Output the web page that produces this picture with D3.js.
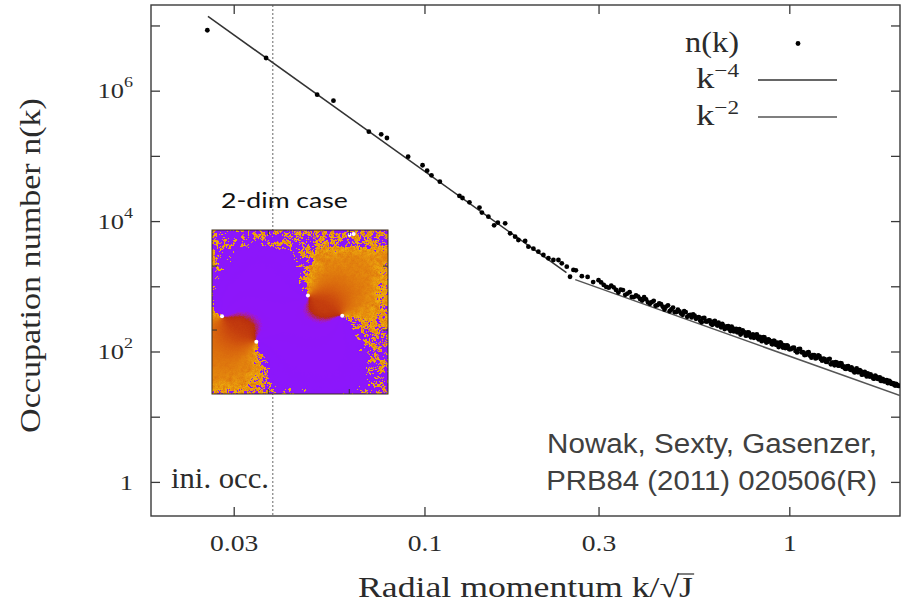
<!DOCTYPE html>
<html>
<head>
<meta charset="utf-8">
<script src="https://cdn.jsdelivr.net/npm/d3@7/dist/d3.min.js"></script>
<style>
  html, body { margin: 0; padding: 0; background: #fff; }
  svg { display: block; }
</style>
</head>
<body>
<script>
// ---- occupation number n(k): sparse infrared points ----
const kSparse = [0.0254, 0.0368, 0.0508, 0.0563, 0.0704, 0.0761, 0.0789, 0.0902, 0.0988, 0.1017,
  0.1045, 0.1102, 0.1247, 0.1271, 0.1328, 0.1415, 0.1437, 0.1497, 0.1552, 0.1589,
  0.1664, 0.1717, 0.1772, 0.1809, 0.1888, 0.1927, 0.1989, 0.2052, 0.2118, 0.2186,
  0.2256, 0.2329, 0.2379, 0.2455, 0.2506, 0.2560];
const nSparse = [8.44e6, 3.17e6, 8.68e5, 7.02e5, 2.35e5, 2.14e5, 1.88e5, 9.72e4, 7.18e4, 5.93e4,
  5.04e4, 4.02e4, 2.43e4, 2.26e4, 1.94e4, 1.61e4, 1.35e4, 1.17e4, 8620, 9450,
  9250, 6500, 5760, 5130, 4950, 4050, 3770, 3390, 3020, 2690,
  2530, 2530, 2250, 2000, 1400, 1780];

// ---- occupation number n(k): dense ultraviolet points, first lattice shell ----
const kDense = [
  0.26, 0.27, 0.28, 0.29, 0.30, 0.31, 0.32, 0.33, 0.34, 0.35,
  0.36, 0.37, 0.38, 0.39, 0.40, 0.41, 0.42, 0.43, 0.44, 0.45,
  0.46, 0.47, 0.48, 0.49, 0.50, 0.51, 0.52, 0.53, 0.54, 0.55,
  0.56, 0.57, 0.58, 0.59, 0.60,
  0.61, 0.62, 0.63, 0.64, 0.65, 0.66, 0.67, 0.68, 0.69, 0.70,
  0.71, 0.72, 0.73, 0.74, 0.75, 0.76, 0.77, 0.78, 0.79, 0.80,
  0.81, 0.82, 0.83, 0.84, 0.85, 0.86, 0.87, 0.88, 0.89, 0.90,
  0.91, 0.92, 0.93, 0.94, 0.95, 0.96, 0.97, 0.98, 0.99, 1.00,
  1.02, 1.04, 1.06, 1.08, 1.10, 1.12, 1.14, 1.16, 1.18, 1.20,
  1.22, 1.24, 1.26, 1.28, 1.30, 1.32, 1.34, 1.36, 1.38, 1.40,
  1.42, 1.44, 1.46, 1.48, 1.50, 1.52, 1.54, 1.56, 1.58, 1.60,
  1.62, 1.64, 1.66, 1.68, 1.70, 1.72, 1.74, 1.76, 1.78, 1.80,
  1.82, 1.84, 1.86, 1.88, 1.90, 1.92, 1.94, 1.96, 1.98, 2.00];
const nDense = [
  1760, 1430, 1390, 1160, 1240, 1050, 953, 965, 802, 876,
  772, 687, 727, 638, 681, 565, 573, 503, 547, 484,
  488, 414, 472, 403, 412, 366, 402, 359, 333, 356,
  331, 295, 326, 289, 298,
  266, 286, 262, 277, 235, 248, 229, 244, 206, 227,
  213, 197, 221, 190, 199, 175, 197, 176, 177, 162,
  178, 159, 167, 144, 166, 149, 140, 151, 143, 129,
  145, 127, 134, 125, 133, 115, 123, 115, 122, 108,
  114, 102, 109, 97.4, 88.4, 96.4, 86.1, 87.6, 78.2, 87.0,
  76.4, 77.9, 69.6, 75.4, 63.6, 67.7, 68.4, 60.8, 66.4, 58.0,
  54.8, 59.0, 54.6, 57.0, 49.8, 52.1, 48.3, 51.9, 44.1, 47.6,
  44.2, 46.2, 41.3, 42.4, 38.5, 42.5, 38.8, 39.4, 35.6, 38.1,
  34.7, 35.8, 32.9, 35.3, 32.2, 32.6, 30.7, 31.9, 30.1, 29.8];

// ---- dense ultraviolet points, second lattice shell ----
const kDenseB = [
  0.305, 0.315, 0.325, 0.335, 0.345, 0.355, 0.365, 0.375, 0.385, 0.395,
  0.405, 0.415, 0.425, 0.435, 0.445, 0.455, 0.465, 0.475, 0.485, 0.495,
  0.505, 0.515, 0.525, 0.535, 0.545, 0.555, 0.565, 0.575, 0.585, 0.595,
  0.605, 0.615, 0.625, 0.635, 0.645, 0.655, 0.665, 0.675, 0.685, 0.695,
  0.705, 0.715, 0.725, 0.735, 0.745, 0.755, 0.765, 0.775, 0.785, 0.795,
  0.805, 0.815, 0.825, 0.835, 0.845, 0.855, 0.865, 0.875, 0.885, 0.895,
  0.905, 0.915, 0.925, 0.935, 0.945, 0.955, 0.965, 0.975, 0.985, 0.995,
  1.01, 1.03, 1.05, 1.07, 1.09, 1.11, 1.13, 1.15, 1.17, 1.19,
  1.21, 1.23, 1.25, 1.27, 1.29, 1.31, 1.33, 1.35, 1.37, 1.39,
  1.41, 1.43, 1.45, 1.47, 1.49, 1.51, 1.53, 1.55, 1.57, 1.59,
  1.61, 1.63, 1.65, 1.67, 1.69, 1.71, 1.73, 1.75, 1.77, 1.79,
  1.81, 1.83, 1.85, 1.87, 1.89, 1.91, 1.93, 1.95, 1.97, 1.99];
const nDenseB = [
  1147, 977, 1027, 881, 886, 739, 811, 683, 695, 603,
  628, 540, 598, 513, 530, 440, 510, 441, 402, 437,
  381, 417, 340, 364, 369, 317, 336, 281, 327, 288,
  299, 257, 295, 250, 256, 264, 221, 243, 220, 241,
  203, 223, 203, 182, 211, 195, 177, 195, 165, 183,
  167, 183, 153, 163, 149, 164, 137, 153, 143, 130,
  146, 130, 137, 117, 138, 122, 124, 113, 124, 112,
  108.5, 114.2, 96.6, 109.2, 97.7, 88.7, 97.5, 80.3, 87.9, 80.2,
  84.9, 72.2, 76.0, 69.3, 77.1, 67.3, 61.5, 67.4, 60.5, 65.6,
  59.1, 54.1, 59.4, 52.3, 54.7, 47.7, 54.9, 48.2, 49.8, 44.5,
  48.8, 41.4, 43.9, 44.6, 40.3, 38.5, 41.2, 37.9, 40.2, 35.5,
  36.9, 35.1, 36.4, 33.0, 34.3, 31.9, 32.5, 30.0, 31.0, 29.7];

// ---- power-law guides n = amp * k^exp ----
const steepRange = [0.0255, 0.245];
const steepAmp = 5.83;
const steepExp = -4;
const flatRange = [0.259, 2.011];
const flatAmp = 85;
const flatExp = -2;

// initial occupation cutoff
const kInit = 0.0384;

// ---- axes ----
const xDomain = [0.0178, 2.011];
const yDomain = [0.3, 2.06e7];
const xTicks = [0.03, 0.1, 0.3, 1];
const xTickLabels = ["0.03", "0.1", "0.3", "1"];
const yTicks = [1, 1e1, 1e2, 1e3, 1e4, 1e5, 1e6, 1e7];
const yTickExps = [0, null, 2, null, 4, null, 6, null];

// ---- inset: phase of the 2-dim condensate ----
const vortices = [[0.545, 0.400], [0.740, 0.523], [0.057, 0.526], [0.252, 0.681], [0.782, 0.029], [0.805, 0.024]];
const vortexPairs = [[[0.740, 0.523], [0.545, 0.400]], [[0.057, 0.526], [0.252, 0.681]]];
const cutLeft = [[0.12, 0], [0.08, 0.25], [0.0, 0.40], [0.057, 0.526], [0.252, 0.681], [0.34, 1.0]];
const cutRight = [[0.50, 0], [0.52, 0.25], [0.545, 0.40], [0.740, 0.523], [0.86, 0.75], [0.92, 1.0]];
const insetTicksU = [0.32, 0.78];
const insetTicksV = [0.22, 0.61];

const W = 909, H = 608;
const M = {left: 151, right: 900, top: 5, bottom: 516};
const ink = "#3a3a3a";
const txt = "#2b2b2b";
const serif = '"Liberation Serif", "DejaVu Serif", serif';

const svg = d3.select("body").append("svg").attr("width", W).attr("height", H);
const defs = svg.append("defs");

const x = d3.scaleLog().domain(xDomain).range([M.left, M.right]);
const y = d3.scaleLog().domain(yDomain).range([M.bottom, M.top]);

defs.append("clipPath").attr("id", "plotClip")
  .append("rect").attr("x", M.left).attr("y", M.top)
  .attr("width", M.right - M.left).attr("height", M.bottom - M.top);

// text placed at (px,py) and stretched horizontally to a given width
function label(parent, px, py, opts) {
  const g = parent.append("g");
  const t = g.append("text").attr("x", 0).attr("y", 0)
    .attr("text-anchor", opts.anchor || "start")
    .attr("font-family", opts.family || serif)
    .attr("font-size", opts.size)
    .attr("fill", opts.fill || txt);
  opts.build(t);
  const natural = t.node().getComputedTextLength();
  const sx = opts.width ? opts.width / natural : (opts.sx || 1);
  g.attr("transform", `translate(${px},${py}) ${opts.rotate ? `rotate(${opts.rotate})` : ""} scale(${sx},1)`);
  return {g, t};
}

// ---- ticks (inward, mirrored on all sides) ----
const tickLen = 9;
function styleAxis(g) {
  g.select(".domain").remove();
  g.selectAll(".tick line").attr("stroke", ink).attr("stroke-width", 1.3);
  g.selectAll("text").attr("font-family", serif).attr("font-size", 22).attr("fill", txt);
}
svg.append("g").attr("transform", `translate(0,${M.bottom})`)
  .call(d3.axisBottom(x).tickValues(xTicks).tickFormat((d, i) => xTickLabels[i])
    .tickSize(-tickLen).tickSizeOuter(0).tickPadding(19))
  .call(styleAxis)
  .selectAll(".tick text").attr("font-size", 23).attr("transform", "scale(1.2,1)");
svg.append("g").attr("transform", `translate(0,${M.top})`)
  .call(d3.axisTop(x).tickValues(xTicks).tickFormat("").tickSize(-tickLen).tickSizeOuter(0))
  .call(styleAxis);

const yLeft = svg.append("g").attr("transform", `translate(${M.left},0)`)
  .call(d3.axisLeft(y).tickValues(yTicks).tickFormat("").tickSize(-tickLen).tickSizeOuter(0).tickPadding(18))
  .call(styleAxis);
svg.append("g").attr("transform", `translate(${M.right},0)`)
  .call(d3.axisRight(y).tickValues(yTicks).tickFormat("").tickSize(-tickLen).tickSizeOuter(0))
  .call(styleAxis);

// y tick labels as powers of ten
yLeft.selectAll(".tick text").each(function(d, i) {
  const t = d3.select(this);
  const e = yTickExps[i];
  if (e === null) return;
  t.attr("x", 0).attr("dy", "0.33em").attr("transform", "translate(-18,0) scale(1.2,1)");
  if (e === 0) { t.text("1"); return; }
  t.append("tspan").text("10");
  t.append("tspan").attr("font-size", 15).attr("dy", -11).text(String(e));
});

// frame
svg.append("rect").attr("x", M.left).attr("y", M.top)
  .attr("width", M.right - M.left).attr("height", M.bottom - M.top)
  .attr("fill", "none").attr("stroke", ink).attr("stroke-width", 1.4);

// ---- initial occupation cutoff ----
svg.append("line")
  .attr("x1", x(kInit)).attr("x2", x(kInit)).attr("y1", M.top).attr("y2", M.bottom)
  .attr("stroke", "#555").attr("stroke-width", 0.9).attr("stroke-dasharray", "2,2");

// ---- power-law guides ----
const line = d3.line().x(d => x(d[0])).y(d => y(d[1]));
const plot = svg.append("g").attr("clip-path", "url(#plotClip)");
plot.append("path")
  .datum(steepRange.map(k => [k, steepAmp * Math.pow(k, steepExp)]))
  .attr("d", line).attr("fill", "none").attr("stroke", "#333").attr("stroke-width", 1.5);
plot.append("path")
  .datum(flatRange.map(k => [k, flatAmp * Math.pow(k, flatExp)]))
  .attr("d", line).attr("fill", "none").attr("stroke", "#555").attr("stroke-width", 1.5);

// ---- data points ----
const pts = kSparse.map((k, i) => [k, nSparse[i]])
  .concat(kDense.map((k, i) => [k, nDense[i]]))
  .concat(kDenseB.map((k, i) => [k, nDenseB[i]]));
plot.append("g").selectAll("circle").data(pts).join("circle")
  .attr("cx", d => x(d[0])).attr("cy", d => y(d[1])).attr("r", 2.4).attr("fill", "#000");

// ---- legend ----
label(svg, 739, 52, {anchor: "end", size: 30, width: 54, build: t => t.text("n(k)")});
svg.append("circle").attr("cx", 798).attr("cy", 43.5).attr("r", 2.4).attr("fill", "#000");
[["\u22124", 88, 80, "#333"], ["\u22122", 125, 117, "#555"]].forEach(([sup, by, ly, col]) => {
  label(svg, 739, by, {anchor: "end", size: 30, width: 43, build: t => {
    t.append("tspan").text("k");
    t.append("tspan").attr("font-size", 19).attr("dy", -11).text(sup);
  }});
  svg.append("line").attr("x1", 758).attr("x2", 837).attr("y1", ly).attr("y2", ly)
    .attr("stroke", col).attr("stroke-width", 1.5);
});

// ---- axis titles ----
label(svg, 40, 265.5, {anchor: "middle", size: 30, width: 335, rotate: -90,
  build: t => t.text("Occupation number n(k)")});

{
  const xt = label(svg, 525.5, 597, {anchor: "middle", size: 30, width: 335,
    build: t => t.text("Radial momentum k/\u221AJ")});
  const node = xt.t.node();
  const n = node.getNumberOfChars();
  const sq = node.getExtentOfChar(n - 2);
  const j = node.getExtentOfChar(n - 1);
  xt.g.append("line")
    .attr("x1", sq.x + sq.width - 1.5).attr("x2", j.x + j.width + 1)
    .attr("y1", -23).attr("y2", -23)
    .attr("stroke", txt).attr("stroke-width", 1.2);
}

label(svg, 171, 488, {size: 29, width: 98, build: t => t.text("ini. occ.")});

// ---- citation ----
const sans = '"Liberation Sans", Arial, sans-serif';
label(svg, 877, 453, {anchor: "end", family: sans, size: 28, width: 330, fill: "#404040",
  build: t => t.text("Nowak, Sexty, Gasenzer,")});
label(svg, 877, 490, {anchor: "end", family: sans, size: 28, width: 331, fill: "#404040",
  build: t => t.text("PRB84 (2011) 020506(R)")});

// ---- inset: condensate phase with vortex pairs ----
const inset = {x0: 212, y0: 230, w: 176, h: 164};
const iu = d3.scaleLinear().domain([0, 1]).range([inset.x0, inset.x0 + inset.w]);
const iv = d3.scaleLinear().domain([0, 1]).range([inset.y0, inset.y0 + inset.h]);
const uLeft = d3.scaleLinear().domain(cutLeft.map(p => p[1])).range(cutLeft.map(p => p[0]));
const uRight = d3.scaleLinear().domain(cutRight.map(p => p[1])).range(cutRight.map(p => p[0]));

// deterministic grain for the thermal fluctuations of the phase
function hash(i, j) {
  const s = Math.sin(i * 127.1 + j * 311.7) * 43758.5453;
  return s - Math.floor(s);
}
function smoothNoise(i, j, c) {
  const fi = i / c, fj = j / c;
  const i0 = Math.floor(fi), j0 = Math.floor(fj);
  const a = fi - i0, b = fj - j0;
  const h00 = hash(i0, j0), h10 = hash(i0 + 1, j0), h01 = hash(i0, j0 + 1), h11 = hash(i0 + 1, j0 + 1);
  return (h00 * (1 - a) + h10 * a) * (1 - b) + (h01 * (1 - a) + h11 * a) * b;
}
const smooth = (e0, e1, t) => { const s = Math.max(0, Math.min(1, (t - e0) / (e1 - e0))); return s * s * (3 - 2 * s); };

// gnuplot "traditional pm3d" palette (7,5,15), slightly washed out
function pm3d(g) {
  const r = Math.sqrt(g), gg = g * g * g, b = Math.max(0, Math.min(1, Math.sin(2 * Math.PI * g)));
  const lift = 0.07;
  return [r, gg, b].map(c => 255 * (c * (1 - lift) + lift * 0.9));
}
function phaseToGray(p) {
  if (p < -0.45) return 0.268 + 0.015 * (p + Math.PI) / (Math.PI - 0.45);
  if (p < 0) return 0.283 + 0.217 * ((p + 0.45) / 0.45);
  return 0.5 + 0.38 * Math.pow(p / Math.PI, 0.8);
}

const cvs = document.createElement("canvas");
cvs.width = inset.w; cvs.height = inset.h;
const ctx = cvs.getContext("2d");
const img = ctx.createImageData(inset.w, inset.h);
for (let j = 0; j < inset.h; j++) {
  for (let i = 0; i < inset.w; i++) {
    const u = (i + 0.5) / inset.w, v = (j + 0.5) / inset.h;
    const s = Math.min(u - uLeft(v), uRight(v) - u);
    let delta = (s > 0 ? 0.8 : 0.55) * Math.tanh(s / 0.09);
    const topVal = u < 0.45 ? -0.08 : 0.12;
    delta = delta + (topVal - delta) * (1 - smooth(0.07, 0.18, v));
    delta = delta + (-0.12 - delta) * smooth(0.88, 0.97, u) * smooth(0.15, 0.25, v);
    delta = delta + (0.04 - delta) * smooth(0.89, 0.99, v) * 0.8;
    let psi = 0;
    vortexPairs.forEach(([a, b]) => {
      const px = u - a[0], py = v - a[1], qx = u - b[0], qy = v - b[1];
      psi += Math.atan2(py * qx - px * qy, px * qx + py * qy);
    });
    const dev = delta + psi;
    const near = Math.exp(-(dev / 0.8) * (dev / 0.8));
    const grain = 1.5 * (smoothNoise(i, j, 3) - 0.5) + 1.0 * (smoothNoise(i + 50, j + 50, 1.5) - 0.5)
      + 0.8 * (hash(i + 17, j + 5) - 0.5);
    let phi = Math.PI + dev + near * grain + 0.1 * (hash(i + 3, j + 41) - 0.5);
    phi = ((phi + Math.PI) % (2 * Math.PI) + 2 * Math.PI) % (2 * Math.PI) - Math.PI;
    const c = pm3d(phaseToGray(phi));
    const o = 4 * (j * inset.w + i);
    img.data[o] = c[0]; img.data[o + 1] = c[1]; img.data[o + 2] = c[2]; img.data[o + 3] = 255;
  }
}
ctx.putImageData(img, 0, 0);

defs.append("filter").attr("id", "soft").append("feGaussianBlur").attr("stdDeviation", 0.55);
defs.append("clipPath").attr("id", "insetClip").append("rect")
  .attr("x", inset.x0).attr("y", inset.y0).attr("width", inset.w).attr("height", inset.h);

const ig = svg.append("g");
ig.append("g").attr("clip-path", "url(#insetClip)")
  .append("image").attr("href", cvs.toDataURL())
  .attr("x", inset.x0).attr("y", inset.y0).attr("width", inset.w).attr("height", inset.h)
  .attr("preserveAspectRatio", "none").attr("filter", "url(#soft)");
ig.selectAll("circle").data(vortices).join("circle")
  .attr("cx", d => iu(d[0])).attr("cy", d => iv(d[1])).attr("r", 2).attr("fill", "#fff");
ig.append("rect").attr("x", inset.x0).attr("y", inset.y0).attr("width", inset.w).attr("height", inset.h)
  .attr("fill", "none").attr("stroke", "#3a2a1a").attr("stroke-width", 1);
const it = ig.append("g").attr("stroke", "#333").attr("stroke-width", 1);
insetTicksV.forEach(t => {
  it.append("line").attr("x1", iu(0)).attr("x2", iu(0) + 5).attr("y1", iv(t)).attr("y2", iv(t));
  it.append("line").attr("x1", iu(1)).attr("x2", iu(1) - 5).attr("y1", iv(t)).attr("y2", iv(t));
});
insetTicksU.forEach(t => {
  it.append("line").attr("x1", iu(t)).attr("x2", iu(t)).attr("y1", iv(1)).attr("y2", iv(1) - 5);
  it.append("line").attr("x1", iu(t)).attr("x2", iu(t)).attr("y1", iv(0)).attr("y2", iv(0) + 5);
});

label(svg, 221, 208, {family: 'Lato, "Open Sans", sans-serif', size: 22, width: 127, fill: "#111",
  build: t => t.text("2-dim case")});
</script>
</body>
</html>
